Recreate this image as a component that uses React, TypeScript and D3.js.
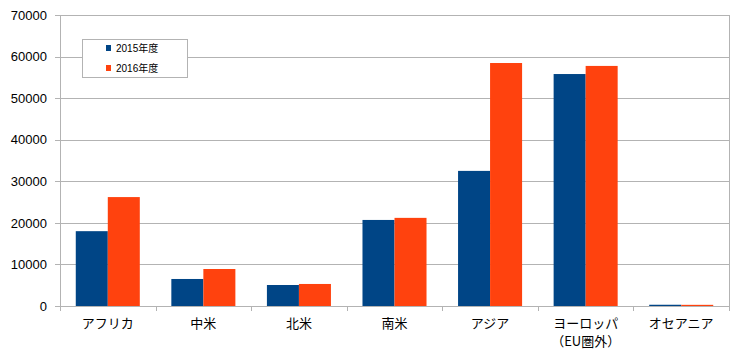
import React from "react";
import * as d3 from "d3";

const categories = ["アフリカ", "中米", "北米", "南米", "アジア", "ヨーロッパ\n（EU圏外）", "オセアニア"];
const series2015 = [18000, 6500, 5050, 20700, 32500, 55800, 300];
const series2016 = [26200, 8900, 5300, 21200, 58450, 57750, 280];
const seriesNames = ["2015年度", "2016年度"];
const seriesColors = ["#004586", "#ff420e"];
const yTicks = [0, 10000, 20000, 30000, 40000, 50000, 60000, 70000];

const W = 740, H = 356;
const left = 60, right = 729, top = 15, bottom = 306;

export default function App() {
  const x0 = d3.scaleBand<string>().domain(categories).range([left, right]).paddingInner(0.33).paddingOuter(0.165);
  const x1 = d3.scaleBand<number>().domain([0, 1]).range([0, x0.bandwidth()]);
  const y = d3.scaleLinear().domain([0, 70000]).range([bottom, top]);
  const step = (right - left) / categories.length;
  const data = [series2015, series2016];
  const font = "'Liberation Sans', Arial, 'Noto Sans CJK JP', sans-serif";
  const grid = "#b3b3b3";
  return (
    <svg width={W} height={H} style={{ position: "absolute", left: 0, top: 0, background: "#fff" }} fontFamily={font}>
      <rect x={0} y={0} width={W} height={H} fill="#fff" />
      {yTicks.map((t) => (
        <g key={t}>
          <line x1={left - 5} x2={right} y1={Math.round(y(t)) + 0.5} y2={Math.round(y(t)) + 0.5} stroke={grid} />
          <text x={47} y={y(t)} dy="0.36em" textAnchor="end" fontSize={13} fill="#000">{t}</text>
        </g>
      ))}
      <line x1={left + 0.5} x2={left + 0.5} y1={top} y2={bottom} stroke={grid} />
      <line x1={right + 0.5} x2={right + 0.5} y1={top} y2={bottom} stroke={grid} />
      {d3.range(categories.length + 1).map((i) => (
        <line key={i} x1={Math.round(left + i * step) + 0.5} x2={Math.round(left + i * step) + 0.5} y1={bottom} y2={bottom + 5} stroke={grid} />
      ))}
      {categories.map((c, ci) => (
        <g key={c}>
          {data.map((s, si) => (
            <rect key={si} x={(x0(c) ?? 0) + (x1(si) ?? 0)} width={x1.bandwidth()} y={y(s[ci])} height={bottom - y(s[ci])} fill={seriesColors[si]} />
          ))}
          {c.split("\n").map((line, li) => (
            <text key={li} x={(x0(c) ?? 0) + x0.bandwidth() / 2} y={328 + li * 18} textAnchor="middle" fontSize={13} fill="#000" fontFamily="'Noto Sans CJK JP', sans-serif">{line}</text>
          ))}
        </g>
      ))}
      <rect x={82.5} y={39.5} width={105} height={38} fill="#fff" stroke={grid} />
      {seriesNames.map((n, i) => (
        <g key={n}>
          <rect x={106} y={45 + i * 20} width={5} height={6} fill={seriesColors[i]} />
          <text x={116} y={52 + i * 20} fontSize={10} fill="#000" fontFamily={font}>{n}</text>
        </g>
      ))}
    </svg>
  );
}
